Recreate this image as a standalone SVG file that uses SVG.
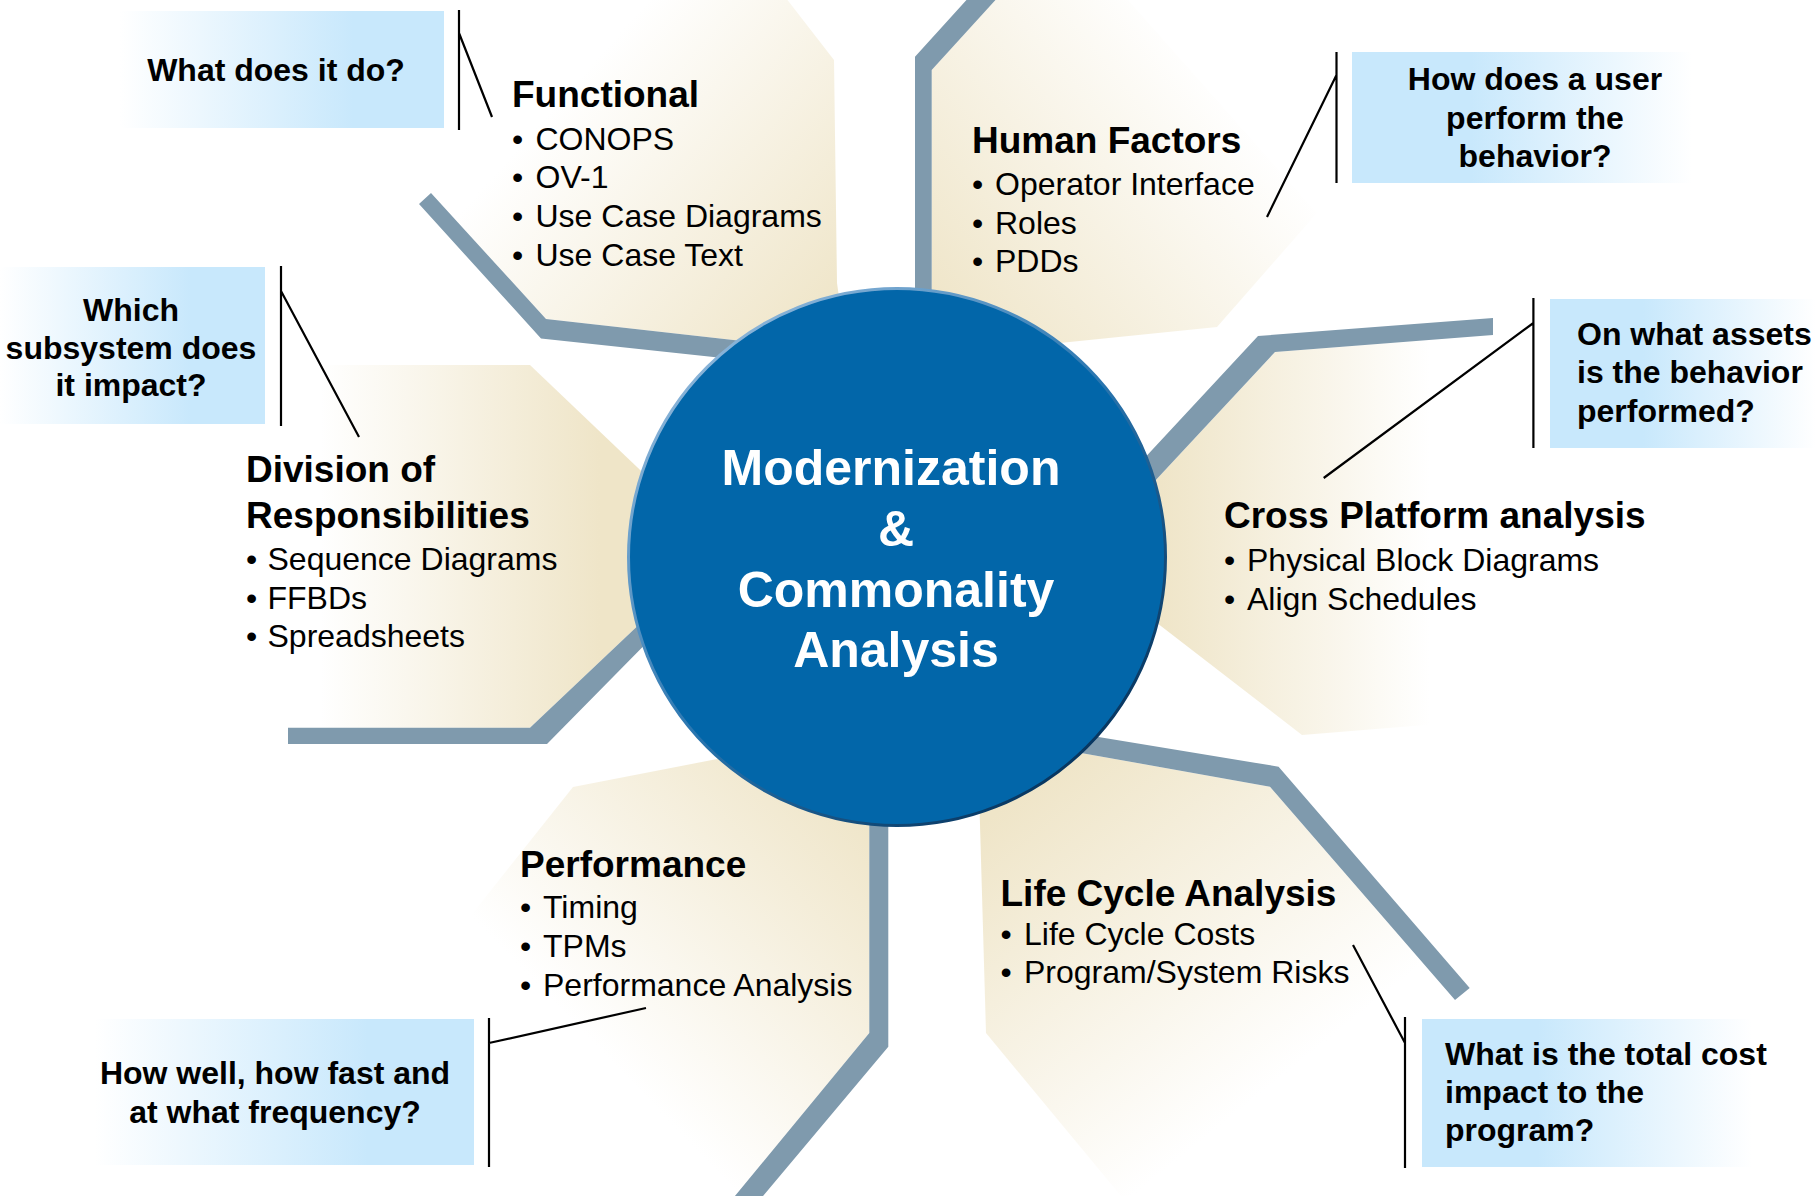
<svg xmlns="http://www.w3.org/2000/svg" width="1816" height="1196" viewBox="0 0 1816 1196">
<defs>
<style>
.t{font-family:"Liberation Sans",Arial,sans-serif;fill:#000}
.h{font-size:37px;font-weight:bold}
.b{font-size:32px}
.q{font-size:32px;font-weight:bold}
.c{font-family:"Liberation Sans",Arial,sans-serif;font-size:50px;font-weight:bold;fill:#fff;text-anchor:middle}
.spoke{fill:#7F9AAD}
.lead{stroke:#000;stroke-width:2.2;fill:none}
</style>
<linearGradient id="gF1" gradientUnits="userSpaceOnUse" x1="560" y1="100" x2="820" y2="330"><stop offset="0" stop-color="#fff"/><stop offset="1" stop-color="#EFE5C8"/></linearGradient>
<linearGradient id="gF2" gradientUnits="userSpaceOnUse" x1="1230" y1="100" x2="950" y2="330"><stop offset="0" stop-color="#fff"/><stop offset="1" stop-color="#EFE5C8"/></linearGradient>
<linearGradient id="gF3" gradientUnits="userSpaceOnUse" x1="1430" y1="0" x2="1160" y2="0"><stop offset="0" stop-color="#fff"/><stop offset="1" stop-color="#EFE5C8"/></linearGradient>
<linearGradient id="gF4" gradientUnits="userSpaceOnUse" x1="1240" y1="1110" x2="1000" y2="810"><stop offset="0" stop-color="#fff"/><stop offset="1" stop-color="#EFE5C8"/></linearGradient>
<linearGradient id="gF5" gradientUnits="userSpaceOnUse" x1="600" y1="1050" x2="860" y2="800"><stop offset="0" stop-color="#fff"/><stop offset="1" stop-color="#EFE5C8"/></linearGradient>
<linearGradient id="gF6" gradientUnits="userSpaceOnUse" x1="320" y1="0" x2="600" y2="0"><stop offset="0" stop-color="#fff"/><stop offset="1" stop-color="#EFE5C8"/></linearGradient>
<linearGradient id="qR" x1="0" y1="0" x2="1" y2="0"><stop offset="0" stop-color="#fff"/><stop offset="0.72" stop-color="#C8E8FC"/><stop offset="1" stop-color="#C8E8FC"/></linearGradient>
<linearGradient id="qL" x1="0" y1="0" x2="1" y2="0"><stop offset="0" stop-color="#C8E8FC"/><stop offset="0.35" stop-color="#C8E8FC"/><stop offset="1" stop-color="#fff"/></linearGradient>
<linearGradient id="rim" x1="0.15" y1="0.1" x2="0.85" y2="0.9"><stop offset="0" stop-color="#8DB6DA"/><stop offset="0.5" stop-color="#2A76B0"/><stop offset="1" stop-color="#06335C"/></linearGradient>
</defs>
<rect width="1816" height="1196" fill="#fff"/>

<g id="node-functional">
<polygon points="431,193 645,0 787.5,0 834,60 837,283 845,340 760,343 546,319" fill="url(#gF1)"/>
<text class="t h" x="512" y="107">Functional</text>
<text class="t b" y="150"><tspan x="512">•</tspan><tspan x="535.5">CONOPS</tspan></text>
<text class="t b" y="188"><tspan x="512">•</tspan><tspan x="535.5">OV-1</tspan></text>
<text class="t b" y="227"><tspan x="512">•</tspan><tspan x="535.5">Use Case Diagrams</tspan></text>
<text class="t b" y="265.5"><tspan x="512">•</tspan><tspan x="535.5">Use Case Text</tspan></text>
</g>

<g id="node-human-factors">
<polygon points="931.7,340 931.7,70 995,0 1128,0 1317,213 1217,327 1040,345" fill="url(#gF2)"/>
<text class="t h" x="972" y="153">Human Factors</text>
<text class="t b" y="194.5"><tspan x="972">•</tspan><tspan x="995">Operator Interface</tspan></text>
<text class="t b" y="233.5"><tspan x="972">•</tspan><tspan x="995">Roles</tspan></text>
<text class="t b" y="272"><tspan x="972">•</tspan><tspan x="995">PDDs</tspan></text>
</g>

<g id="node-cross-platform">
<polygon points="1100,540 1275,352 1493,335 1520,716 1487,720 1302,735 1157,623 1100,590" fill="url(#gF3)"/>
<text class="t h" x="1224" y="528">Cross Platform analysis</text>
<text class="t b" y="571"><tspan x="1224">•</tspan><tspan x="1247">Physical Block Diagrams</tspan></text>
<text class="t b" y="609.5"><tspan x="1224">•</tspan><tspan x="1247">Align Schedules</tspan></text>
</g>

<g id="node-life-cycle">
<polygon points="1050,747.4 1270,786.7 1455,1000 1226,1196 1121,1196 986,1033 979,790" fill="url(#gF4)"/>
<text class="t h" x="1000.5" y="905.5">Life Cycle Analysis</text>
<text class="t b" y="945"><tspan x="1000.5">•</tspan><tspan x="1024">Life Cycle Costs</tspan></text>
<text class="t b" y="983"><tspan x="1000.5">•</tspan><tspan x="1024">Program/System Risks</tspan></text>
</g>

<g id="node-performance">
<polygon points="760,751 712,760 573,787 330,1093 430,1196 735,1196 869.3,1033 869.3,790" fill="url(#gF5)"/>
<text class="t h" x="520" y="876.5">Performance</text>
<text class="t b" y="918"><tspan x="520">•</tspan><tspan x="543">Timing</tspan></text>
<text class="t b" y="957"><tspan x="520">•</tspan><tspan x="543">TPMs</tspan></text>
<text class="t b" y="996"><tspan x="520">•</tspan><tspan x="543">Performance Analysis</tspan></text>
</g>

<g id="node-division">
<polygon points="290,365 530,365 680,508 665,600 530,727.7 285,727.7" fill="url(#gF6)"/>
<text class="t h" x="246" y="482">Division of</text>
<text class="t h" x="246" y="527.5">Responsibilities</text>
<text class="t b" y="569.5"><tspan x="246">•</tspan><tspan x="267.5">Sequence Diagrams</tspan></text>
<text class="t b" y="608.5"><tspan x="246">•</tspan><tspan x="267.5">FFBDs</tspan></text>
<text class="t b" y="647"><tspan x="246">•</tspan><tspan x="267.5">Spreadsheets</tspan></text>
</g>

<g id="spokes">
<polygon class="spoke" points="431,193 546,319 760,343 760,362 541,338.5 419,204"/>
<polygon class="spoke" points="915,330 915,56.7 971,-5 1000,-5 931.7,70 931.7,330"/>
<polygon class="spoke" points="1493,318 1258,336 1087,520 1100,540 1275,352 1493,335"/>
<polygon class="spoke" points="1050,729 1278.6,766.7 1469.7,988 1455,1000 1270,786.7 1050,747.4"/>
<polygon class="spoke" points="869.3,790 869.3,1033 730,1202 758,1202 888.3,1046.7 888.3,790"/>
<polygon class="spoke" points="288,727.7 530,727.7 665,600 679,610 547,744 288,744"/>
</g>

<g id="center">
<circle cx="897" cy="557" r="268.5" fill="#0266A9"/>
<circle cx="897" cy="557" r="268.5" fill="none" stroke="url(#rim)" stroke-width="3"/>
<text class="c" x="891" y="485">Modernization</text>
<text class="c" x="896" y="546">&amp;</text>
<text class="c" x="896" y="606.5">Commonality</text>
<text class="c" x="896" y="667">Analysis</text>
</g>

<g id="q-functional">
<rect x="120" y="11" width="324" height="117" fill="url(#qR)"/>
<text class="t q" x="276" y="81" text-anchor="middle">What does it do?</text>
</g>
<g id="q-human-factors">
<rect x="1352" y="52" width="340" height="131" fill="url(#qL)"/>
<text class="t q" text-anchor="middle"><tspan x="1535" y="90">How does a user</tspan><tspan x="1535" y="128.5">perform the</tspan><tspan x="1535" y="167">behavior?</tspan></text>
</g>
<g id="q-division">
<rect x="0" y="267" width="265" height="157" fill="url(#qR)"/>
<text class="t q" text-anchor="middle"><tspan x="131" y="320.5">Which</tspan><tspan x="131" y="358.5">subsystem does</tspan><tspan x="131" y="395.5">it impact?</tspan></text>
</g>
<g id="q-cross-platform">
<rect x="1550" y="299" width="266" height="149" fill="url(#qL)"/>
<text class="t q"><tspan x="1577" y="345">On what assets</tspan><tspan x="1577" y="383">is the behavior</tspan><tspan x="1577" y="421.5">performed?</tspan></text>
</g>
<g id="q-performance">
<rect x="95" y="1019" width="379" height="146" fill="url(#qR)"/>
<text class="t q" text-anchor="middle"><tspan x="275" y="1084">How well, how fast and</tspan><tspan x="275" y="1123">at what frequency?</tspan></text>
</g>
<g id="q-life-cycle">
<rect x="1422" y="1019" width="330" height="148" fill="url(#qL)"/>
<text class="t q"><tspan x="1445" y="1065">What is the total cost</tspan><tspan x="1445" y="1103">impact to the</tspan><tspan x="1445" y="1141">program?</tspan></text>
</g>

<g id="connectors">
<path class="lead" d="M459,10 V130 M459,33 L492,117"/>
<path class="lead" d="M1336.5,52 V183 M1336.5,75 L1267,217"/>
<path class="lead" d="M281,266 V426 M281,291 L359,437"/>
<path class="lead" d="M1533.4,298 V448 M1533.4,323 L1323.7,478"/>
<path class="lead" d="M489,1018 V1167 M489,1043 L646,1008"/>
<path class="lead" d="M1405,1017 V1168 M1405,1043 L1353,945"/>
</g>
</svg>
